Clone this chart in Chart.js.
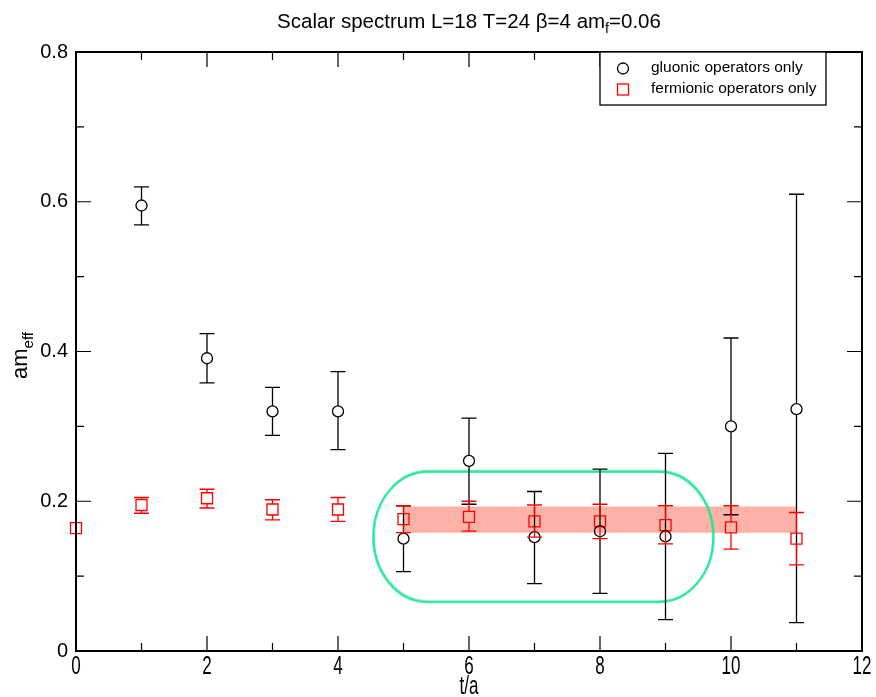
<!DOCTYPE html>
<html>
<head>
<meta charset="utf-8">
<script src="https://cdn.jsdelivr.net/npm/chart.js@4.4.1/dist/chart.umd.min.js"></script>
<style>
  html, body { margin: 0; padding: 0; background: #fff; }
  canvas { display: block; }
</style>
</head>
<body>
<canvas id="chart" width="876" height="697"></canvas>
<script>
// gluonic operators only (black circles)
const GLUONIC_T = [1, 2, 3, 4, 5, 6, 7, 8, 9, 10, 11];
const GLUONIC_MEAN = [0.595, 0.391, 0.320, 0.320, 0.150, 0.254, 0.152, 0.160, 0.153, 0.300, 0.323];
const GLUONIC_LOW = [0.569, 0.358, 0.288, 0.269, 0.106, 0.196, 0.090, 0.077, 0.042, 0.182, 0.038];
const GLUONIC_HIGH = [0.620, 0.424, 0.352, 0.373, 0.194, 0.311, 0.213, 0.243, 0.264, 0.418, 0.610];

// fermionic operators only (red squares); t=0 has no visible error bar
const FERMIONIC_T = [0, 1, 2, 3, 4, 5, 6, 7, 8, 9, 10, 11];
const FERMIONIC_MEAN = [0.164, 0.195, 0.204, 0.189, 0.189, 0.176, 0.179, 0.173, 0.173, 0.168, 0.165, 0.150];
const FERMIONIC_LOW = [0.164, 0.184, 0.191, 0.175, 0.173, 0.158, 0.160, 0.152, 0.150, 0.143, 0.136, 0.115];
const FERMIONIC_HIGH = [0.164, 0.205, 0.216, 0.202, 0.205, 0.194, 0.200, 0.195, 0.196, 0.194, 0.194, 0.185];

// fit band and the hand drawn marker round the plateau
const BAND_T = [5, 11];
const BAND_LOW = [0.158, 0.158];
const BAND_HIGH = [0.193, 0.193];
const OVAL_T = [4.54, 9.73];
const OVAL_Y = [0.066, 0.240];

const X_TICKS = [0, 2, 4, 6, 8, 10, 12];
const X_MINOR_TICKS = [1, 3, 5, 7, 9, 11];
const Y_TICKS = [0, 0.2, 0.4, 0.6, 0.8];
const Y_MINOR_TICKS = [0.1, 0.3, 0.5, 0.7];

const FONT = `"Liberation Sans", Arial, Helvetica, sans-serif`;
const RED = `#ff0000`;
const MARK = 5.5;
const CAP = 7.5;

const toPoints = (xs, ys) => xs.map((t, i) => ({x: t, y: ys[i]}));

const drawErrorBars = (chart, xs, lows, highs, means, color) => {
  const {ctx, scales: {x, y}} = chart;
  ctx.save();
  ctx.strokeStyle = color;
  ctx.lineWidth = 1.3;
  xs.forEach((t, i) => {
    if (highs[i] - lows[i] <= 0) {
      return;
    }
    const px = x.getPixelForValue(t);
    const top = y.getPixelForValue(highs[i]);
    const bottom = y.getPixelForValue(lows[i]);
    const mid = y.getPixelForValue(means[i]);
    ctx.beginPath();
    if (mid - MARK > top) {
      ctx.moveTo(px, top);
      ctx.lineTo(px, mid - MARK);
    }
    if (mid + MARK < bottom) {
      ctx.moveTo(px, mid + MARK);
      ctx.lineTo(px, bottom);
    }
    ctx.moveTo(px - CAP, top);
    ctx.lineTo(px + CAP, top);
    ctx.moveTo(px - CAP, bottom);
    ctx.lineTo(px + CAP, bottom);
    ctx.stroke();
  });
  ctx.restore();
};

const drawOval = (chart) => {
  const {ctx, scales: {x, y}} = chart;
  const left = x.getPixelForValue(OVAL_T[0]);
  const right = x.getPixelForValue(OVAL_T[1]);
  const top = y.getPixelForValue(OVAL_Y[1]);
  const bottom = y.getPixelForValue(OVAL_Y[0]);
  const ry = (bottom - top) / 2;
  const rx = ry * 0.83;
  const cy = top + ry;
  const strokes = [[0, 0], [0.9, 0.7], [-0.7, 1.1], [0.4, -0.8], [-0.3, 0.3]];

  ctx.save();
  ctx.strokeStyle = `rgba(30, 230, 150, 0.6)`;
  ctx.lineWidth = 1.3;
  strokes.forEach(([dx, dy]) => {
    ctx.beginPath();
    ctx.moveTo(left + rx + dx, top + dy);
    ctx.lineTo(right - rx + dx, top + dy);
    ctx.ellipse(right - rx + dx, cy + dy, rx, ry, 0, -Math.PI / 2, Math.PI / 2);
    ctx.lineTo(left + rx + dx, bottom + dy);
    ctx.ellipse(left + rx + dx, cy + dy, rx, ry, 0, Math.PI / 2, Math.PI * 1.5);
    ctx.stroke();
  });
  ctx.restore();
};

const drawFrame = (chart) => {
  const {ctx, chartArea: area, scales: {x, y}} = chart;
  ctx.save();
  ctx.strokeStyle = `#000`;
  ctx.lineWidth = 1.2;
  const tickX = (values, len) => {
    values.forEach((v) => {
      const px = x.getPixelForValue(v);
      ctx.moveTo(px, area.bottom);
      ctx.lineTo(px, area.bottom - len);
      ctx.moveTo(px, area.top);
      ctx.lineTo(px, area.top + len);
    });
  };
  const tickY = (values, len) => {
    values.forEach((v) => {
      const py = y.getPixelForValue(v);
      ctx.moveTo(area.left, py);
      ctx.lineTo(area.left + len, py);
      ctx.moveTo(area.right, py);
      ctx.lineTo(area.right - len, py);
    });
  };
  ctx.beginPath();
  tickX(X_TICKS, 15);
  tickX(X_MINOR_TICKS, 8);
  tickY(Y_TICKS, 15);
  tickY(Y_MINOR_TICKS, 8);
  ctx.stroke();

  ctx.lineWidth = 2;
  ctx.strokeRect(area.left, area.top, area.right - area.left, area.bottom - area.top);
  ctx.restore();
};

const drawTexts = (chart) => {
  const {ctx, chartArea: area, scales: {x}} = chart;
  const centerX = (area.left + area.right) / 2;
  ctx.save();
  ctx.fillStyle = `#000`;

  // title with subscript
  const main = `Scalar spectrum L=18 T=24 \u03b2=4 am`;
  const sub = `f`;
  const tail = `=0.06`;
  ctx.font = `20.5px ${FONT}`;
  const wMain = ctx.measureText(main).width;
  const wTail = ctx.measureText(tail).width;
  ctx.font = `14px ${FONT}`;
  const wSub = ctx.measureText(sub).width;
  let tx = centerX - (wMain + wSub + wTail) / 2;
  ctx.textBaseline = `alphabetic`;
  ctx.textAlign = `left`;
  ctx.font = `20.5px ${FONT}`;
  ctx.fillText(main, tx, 28);
  tx += wMain;
  ctx.font = `14px ${FONT}`;
  ctx.fillText(sub, tx, 33);
  tx += wSub;
  ctx.font = `20.5px ${FONT}`;
  ctx.fillText(tail, tx, 28);

  // x tick labels, drawn narrow and tall like the original raster
  ctx.font = `20px ${FONT}`;
  ctx.textAlign = `center`;
  ctx.textBaseline = `top`;
  X_TICKS.forEach((v) => {
    ctx.save();
    ctx.translate(x.getPixelForValue(v), area.bottom + 4);
    ctx.scale(0.85, 1.25);
    ctx.fillText(String(v), 0, 0);
    ctx.restore();
  });

  // x axis title
  ctx.save();
  ctx.translate(centerX, area.bottom + 43);
  ctx.scale(0.85, 1.25);
  ctx.textBaseline = `alphabetic`;
  ctx.fillText(`t/a`, 0, 0);
  ctx.restore();

  // y axis title: am_eff
  ctx.save();
  ctx.translate(27, (area.top + area.bottom) / 2 + 4);
  ctx.rotate(-Math.PI / 2);
  ctx.textAlign = `left`;
  ctx.textBaseline = `alphabetic`;
  ctx.font = `22px ${FONT}`;
  const wAm = ctx.measureText(`am`).width;
  ctx.font = `15px ${FONT}`;
  const wEff = ctx.measureText(`eff`).width;
  const start = -(wAm + wEff) / 2;
  ctx.font = `22px ${FONT}`;
  ctx.fillText(`am`, start, 0);
  ctx.font = `15px ${FONT}`;
  ctx.fillText(`eff`, start + wAm, 6);
  ctx.restore();

  ctx.restore();
};

const drawLegend = (chart) => {
  const {ctx, chartArea: area} = chart;
  const boxLeft = 600;
  const boxRight = 826;
  const boxTop = area.top;
  const boxBottom = 105;
  ctx.save();
  ctx.fillStyle = `#fff`;
  ctx.fillRect(boxLeft, boxTop, boxRight - boxLeft, boxBottom - boxTop);
  ctx.strokeStyle = `#000`;
  ctx.lineWidth = 1.3;
  ctx.strokeRect(boxLeft, boxTop, boxRight - boxLeft, boxBottom - boxTop);

  ctx.beginPath();
  ctx.arc(623, 68.5, MARK, 0, Math.PI * 2);
  ctx.stroke();
  ctx.strokeStyle = RED;
  ctx.strokeRect(623 - MARK, 89.5 - MARK, MARK * 2, MARK * 2);

  ctx.fillStyle = `#000`;
  ctx.font = `15.5px ${FONT}`;
  ctx.textAlign = `left`;
  ctx.textBaseline = `middle`;
  ctx.fillText(`gluonic operators only`, 651, 68);
  ctx.fillText(`fermionic operators only`, 651, 89);
  ctx.restore();
};

const decorations = {
  id: `decorations`,
  afterDatasetsDraw(chart) {
    drawOval(chart);
    drawErrorBars(chart, GLUONIC_T, GLUONIC_LOW, GLUONIC_HIGH, GLUONIC_MEAN, `#000`);
    drawErrorBars(chart, FERMIONIC_T, FERMIONIC_LOW, FERMIONIC_HIGH, FERMIONIC_MEAN, RED);
  },
  afterDraw(chart) {
    drawFrame(chart);
    drawTexts(chart);
    drawLegend(chart);
  },
};

new Chart(document.getElementById(`chart`).getContext(`2d`), {
  type: `scatter`,
  plugins: [decorations],
  data: {
    datasets: [
      {
        label: `band high`,
        data: toPoints(BAND_T, BAND_HIGH),
        showLine: true,
        borderWidth: 0,
        pointRadius: 0,
        order: 5,
      },
      {
        label: `band low`,
        data: toPoints(BAND_T, BAND_LOW),
        showLine: true,
        borderWidth: 0,
        pointRadius: 0,
        fill: `-1`,
        backgroundColor: `#feb1a7`,
        order: 4,
      },
      {
        label: `gluonic operators only`,
        data: toPoints(GLUONIC_T, GLUONIC_MEAN),
        pointStyle: `circle`,
        pointRadius: MARK,
        pointBorderWidth: 1.3,
        pointBorderColor: `#000`,
        pointBackgroundColor: `rgba(0,0,0,0)`,
        clip: false,
        order: 1,
      },
      {
        label: `fermionic operators only`,
        data: toPoints(FERMIONIC_T, FERMIONIC_MEAN),
        pointStyle: `rect`,
        pointRadius: MARK * Math.SQRT2,
        pointBorderWidth: 1.3,
        pointBorderColor: RED,
        pointBackgroundColor: `rgba(0,0,0,0)`,
        clip: false,
        order: 2,
      },
    ],
  },
  options: {
    responsive: false,
    animation: false,
    devicePixelRatio: 1,
    layout: {padding: {top: 52, right: 14, left: 0, bottom: 0}},
    plugins: {
      legend: {display: false},
      tooltip: {enabled: false},
      title: {display: false},
    },
    scales: {
      x: {
        type: `linear`,
        min: 0,
        max: 12,
        grid: {display: false, drawTicks: false},
        border: {display: false},
        ticks: {display: false, stepSize: 2},
        afterFit: (scale) => {
          scale.height = 46;
        },
      },
      y: {
        type: `linear`,
        min: 0,
        max: 0.8,
        grid: {display: false, drawTicks: false},
        border: {display: false},
        ticks: {
          stepSize: 0.2,
          padding: 8,
          color: `#000`,
          font: {family: FONT, size: 20},
        },
        afterFit: (scale) => {
          scale.width = 76;
        },
      },
    },
  },
});
</script>
</body>
</html>
